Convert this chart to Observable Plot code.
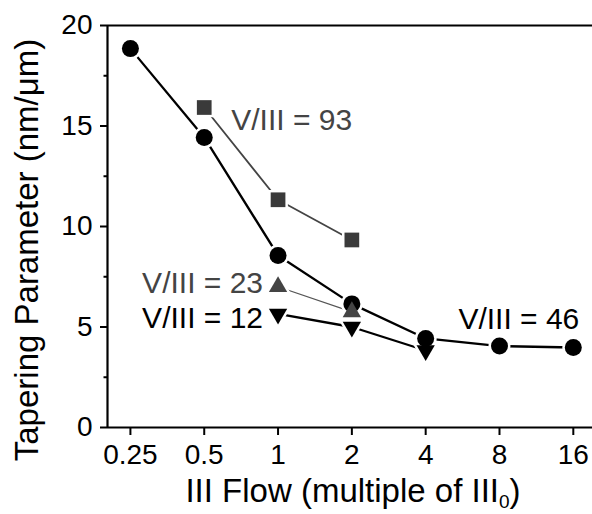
<!DOCTYPE html>
<html><head><meta charset="utf-8">
<script src="https://cdn.jsdelivr.net/npm/d3@7"></script>
<script src="https://cdn.jsdelivr.net/npm/@observablehq/plot@0.6"></script>
<style>body{margin:0;background:#fff}</style>
</head><body><div id="chart"></div>
<script>
// Data
const flow46 = [0.25, 0.5, 1, 2, 4, 8, 16];
const tap46  = [18.85, 14.43, 8.56, 6.15, 4.43, 4.05, 3.98];
const flow93 = [0.5, 1, 2];
const tap93  = [15.92, 11.33, 9.33];
const flow23 = [1, 2];
const tap23  = [7.0, 5.75];
const flow12 = [1, 2, 4];
const tap12  = [5.65, 5.0, 3.83];
const seriesNames = ["V/III = 46", "V/III = 93", "V/III = 23", "V/III = 12"];
const xTicks = [0.25, 0.5, 1, 2, 4, 8, 16];
const yTicks = [0, 5, 10, 15, 20];
const yMinor = [2.5, 7.5, 12.5, 17.5];

const toRows = (xs, ys, s) => xs.map((x, i) => ({x, y: ys[i], s}));
const r46 = toRows(flow46, tap46, seriesNames[0]);
const r93 = toRows(flow93, tap93, seriesNames[1]);
const r23 = toRows(flow23, tap23, seriesNames[2]);
const r12 = toRows(flow12, tap12, seriesNames[3]);

const font = "Liberation Sans, Arial, sans-serif";
const halo = (rows, symbol, r, rotate = 0) =>
  Plot.dot(rows, {x: "x", y: "y", symbol, r, rotate, fill: "white", stroke: "white", strokeWidth: 5});
const marker = (rows, symbol, r, color, rotate = 0) =>
  Plot.dot(rows, {x: "x", y: "y", symbol, r, rotate, fill: color, stroke: "none"});

const chart = Plot.plot({
  width: 592, height: 514,
  marginLeft: 107, marginTop: 25, marginBottom: 87, marginRight: 0,
  style: {fontFamily: font, background: "white", overflow: "visible"},
  x: {type: "log", base: 2, domain: [0.2016, 19.16]},
  y: {domain: [0, 20]},
  marks: [
    // lines
    Plot.line(r46, {x: "x", y: "y", stroke: "black", strokeWidth: 2.3}),
    Plot.line(r93, {x: "x", y: "y", stroke: "#444", strokeWidth: 1.8}),
    Plot.line(r23, {x: "x", y: "y", stroke: "#555", strokeWidth: 1.2}),
    Plot.line(r12, {x: "x", y: "y", stroke: "black", strokeWidth: 2.3}),
    // halos (gaps between lines and markers)
    halo(r46, "circle", 8.5),
    halo(r93, "square", 8.3),
    halo(r23, "triangle", 6.8),
    halo(r12, "triangle", 6.8, 180),
    // markers
    marker(r46, "circle", 8.5, "black"),
    marker(r93, "square", 8.3, "#3a3a3a"),
    marker(r23, "triangle", 6.8, "#444"),
    marker(r12, "triangle", 6.8, "black", 180),
    // series labels
    Plot.text([r93[0]], {x: "x", y: "y", text: "s", textAnchor: "start", dx: 27, dy: 13, fontSize: 30, fill: "#444"}),
    Plot.text([r23[0]], {x: "x", y: "y", text: "s", textAnchor: "end", dx: -15, dy: -3, fontSize: 30, fill: "#444"}),
    Plot.text([r12[0]], {x: "x", y: "y", text: "s", textAnchor: "end", dx: -15, dy: 4, fontSize: 30, fill: "black"}),
    Plot.text([r46[r46.length - 1]], {x: "x", y: "y", text: "s", textAnchor: "end", dx: 6, dy: -28, fontSize: 30, fill: "black"}),
    // frame lines
    Plot.ruleY([0], {stroke: "black", strokeWidth: 2.2}),
    Plot.ruleY([20], {stroke: "black", strokeWidth: 2.2}),
    Plot.ruleX([0.2016], {stroke: "black", strokeWidth: 2.2}),
    // axes
    Plot.axisY(yTicks, {tickSize: 7, tickPadding: 8, fontSize: 28, strokeWidth: 2, label: null, color: "black"}),
    Plot.axisY(yMinor, {tickSize: 3.5, tickFormat: () => "", strokeWidth: 2, label: null}),
    Plot.axisX(xTicks, {tickSize: 8, tickPadding: 9, fontSize: 28, strokeWidth: 2, tickFormat: d => String(d), label: null, color: "black"})
  ]
});

const svg = d3.select(chart);
svg.append("text")
  .attr("transform", "translate(38,250) rotate(-90)")
  .attr("text-anchor", "middle")
  .style("font-family", font).style("font-size", "33px").attr("fill", "black")
  .text("Tapering Parameter (nm/μm)");
const xt = svg.append("text")
  .attr("x", 353).attr("y", 502)
  .attr("text-anchor", "middle")
  .style("font-family", font).style("font-size", "33px").attr("fill", "black");
xt.append("tspan").text("III Flow (multiple of III");
xt.append("tspan").attr("dy", 6).style("font-size", "19px").text("0");
xt.append("tspan").attr("dy", -6).text(")");

document.getElementById("chart").appendChild(chart);
</script>
</body></html>
